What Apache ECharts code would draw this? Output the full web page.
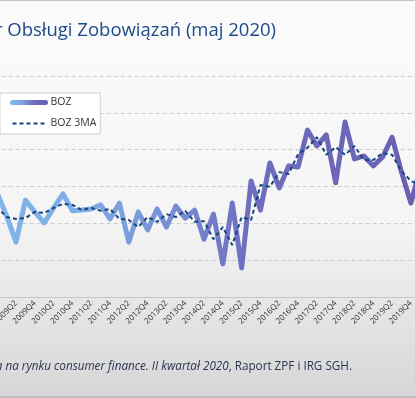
<!DOCTYPE html>
<html lang="pl">
<head>
    <meta charset="UTF-8">
    <title>Barometr Obsługi Zobowiązań</title>
    <script type="text/javascript" src="https://cdn.jsdelivr.net/npm/echarts@6/dist/echarts.min.js"></script>
    <style>
        html, body {margin: 0; padding: 0; overflow: hidden;}
    </style>
</head>
<body>
<div id="chart" style="width: 415px;height:398px;"></div>
<script>
    // kwartały (wykres jest przycięty z obu stron)
    var quarters = ['2008Q2', '2008Q3', '2008Q4', '2009Q1', '2009Q2', '2009Q3', '2009Q4', '2010Q1',
        '2010Q2', '2010Q3', '2010Q4', '2011Q1', '2011Q2', '2011Q3', '2011Q4', '2012Q1',
        '2012Q2', '2012Q3', '2012Q4', '2013Q1', '2013Q2', '2013Q3', '2013Q4', '2014Q1',
        '2014Q2', '2014Q3', '2014Q4', '2015Q1', '2015Q2', '2015Q3', '2015Q4', '2016Q1',
        '2016Q2', '2016Q3', '2016Q4', '2017Q1', '2017Q2', '2017Q3', '2017Q4', '2018Q1',
        '2018Q2', '2018Q3', '2018Q4', '2019Q1', '2019Q2', '2019Q3', '2019Q4', '2020Q1'];

    var boz = [26.3, 25.0, 28.2, 22.0, 14.9, 26.3, 23.1, 20.1,
        24.2, 28.0, 23.4, 23.6, 23.9, 25.0, 21.2, 25.5,
        14.9, 23.1, 18.2, 23.9, 19.0, 24.7, 21.4, 23.6,
        15.7, 22.5, 9.0, 25.5, 7.9, 31.5, 23.6, 36.4,
        29.6, 35.6, 35.3, 45.3, 41.0, 44.0, 31.0, 47.5,
        37.5, 38.3, 35.6, 38.0, 43.4, 33.9, 25.5, 35.0];

    var boz3ma = [26.9, 26.6, 24.4, 21.7, 21.2, 21.4, 23.1, 22.8,
        24.2, 25.3, 25.0, 23.6, 24.2, 23.4, 23.9, 21.2,
        20.9, 19.0, 21.7, 20.4, 22.5, 21.7, 23.4, 20.4,
        20.6, 15.7, 19.0, 14.1, 21.7, 20.9, 30.4, 29.9,
        33.9, 33.4, 38.8, 40.5, 43.4, 38.6, 40.7, 38.6,
        41.0, 37.2, 37.2, 39.1, 38.6, 34.2, 31.5, 30.4];

    var yTicks = {min: 0, max: 60, interval: 10};

    var bozGradient = new echarts.graphic.LinearGradient(0, 0, 1, 0, [
        {offset: 0, color: '#82b6ec'},
        {offset: 0.25, color: '#7dade6'},
        {offset: 0.45, color: '#778dd2'},
        {offset: 0.6, color: '#6e6fbf'},
        {offset: 1, color: '#6a5fb2'}
    ]);

    var myChart = echarts.init(document.getElementById('chart'));

    var option = {
        backgroundColor: new echarts.graphic.LinearGradient(0, 0, 0, 1, [
            {offset: 0, color: '#fbfbfb'},
            {offset: 0.55, color: '#f5f5f5'},
            {offset: 0.8, color: '#e4e4e4'},
            {offset: 1, color: '#d6d6d6'}
        ]),
        animation: false,
        graphic: [
            {type: 'rect', shape: {x: 0, y: 0, width: 415, height: 1}, style: {fill: '#c4c4c4'}},
            {type: 'rect', shape: {x: 0, y: 396, width: 415, height: 2}, style: {fill: '#bdbdbd'}},
            {
                type: 'text', x: 276, y: 31,
                style: {
                    text: 'Barometr Obsługi Zobowiązań (maj 2020)',
                    align: 'right', verticalAlign: 'middle',
                    fontFamily: 'Open Sans', fontSize: 18.5, fill: '#1d4a88'
                }
            },
            {
                type: 'text', x: 352, y: 367,
                style: {
                    text: '{n|Źródło: }{i|Sytuacja na rynku consumer finance. II kwartał 2020}{n|, Raport ZPF i IRG SGH.}',
                    align: 'right', verticalAlign: 'middle',
                    rich: {
                        n: {fontFamily: 'Open Sans', fontSize: 11.7, fill: '#2b3552'},
                        i: {fontFamily: 'Open Sans', fontSize: 11.7, fontStyle: 'italic', fill: '#2b3552'}
                    }
                }
            }
        ],
        legend: {
            orient: 'vertical',
            left: 0,
            top: 93,
            padding: [4, 4, 5, 10],
            itemWidth: 33,
            itemHeight: 10,
            itemGap: 10,
            backgroundColor: '#ffffff',
            borderColor: '#cfcfcf',
            borderWidth: 1,
            itemStyle: {opacity: 0},
            textStyle: {fontFamily: 'Open Sans', fontSize: 10.5, color: '#333'},
            data: [
                {name: 'BOZ', lineStyle: {width: 5, cap: 'round', color: bozGradient}},
                {name: 'BOZ 3MA', lineStyle: {width: 2, type: [4, 3], color: '#17467e'}}
            ]
        },
        grid: {
            left: -26.3,
            right: -10,
            top: 76,
            bottom: 101,
            outerBoundsMode: 'none',
            containLabel: false
        },
        xAxis: {
            type: 'category',
            data: quarters,
            boundaryGap: true,
            axisLine: {lineStyle: {color: '#c6c6c6'}},
            axisTick: {length: 3, lineStyle: {color: '#b8b8b8'}},
            axisLabel: {
                interval: 1,
                rotate: 45,
                margin: 5,
                fontFamily: 'Open Sans',
                fontSize: 8,
                color: '#333'
            }
        },
        yAxis: {
            type: 'value',
            min: yTicks.min,
            max: yTicks.max,
            interval: yTicks.interval,
            axisLabel: {show: false},
            axisLine: {show: false},
            axisTick: {show: false},
            splitLine: {lineStyle: {color: '#cccccc', type: [4, 3], width: 1}}
        },
        series: [
            {
                name: 'BOZ',
                type: 'line',
                data: boz,
                symbol: 'none',
                z: 2,
                lineStyle: {width: 5, cap: 'round', join: 'round', color: bozGradient},
                itemStyle: {color: '#6f6fc0'}
            },
            {
                name: 'BOZ 3MA',
                type: 'line',
                data: boz3ma,
                symbol: 'none',
                z: 3,
                lineStyle: {width: 2, type: [4, 3], color: '#17467e'},
                itemStyle: {color: '#17467e'}
            }
        ]
    };

    myChart.setOption(option);
</script>
</body>
</html>
